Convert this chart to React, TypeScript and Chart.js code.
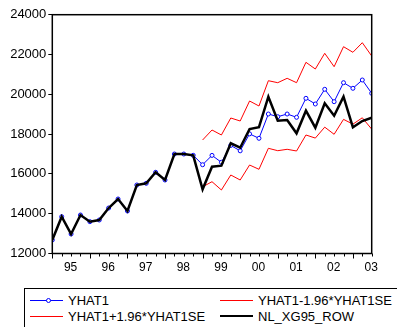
import React, { useEffect, useRef } from 'react';
import { Chart, registerables } from 'chart.js';

Chart.register(...registerables);

// Quarterly observations 1995Q1 .. 2003Q3 (index 0..34)
const yearLabels = ['95', '96', '97', '98', '99', '00', '01', '02', '03'];
const yTickValues = [12000, 14000, 16000, 18000, 20000, 22000, 24000];

const nlXg95Row = [
  12680, 13850, 12980, 13935, 13600, 13683, 14286, 14739, 14136, 15442,
  15527, 16080, 15693, 17000, 17000, 16935, 15226, 16362, 16412, 17538,
  17317, 18250, 18350, 19879, 18673, 18709, 18040, 19176, 18322, 19548,
  18925, 19879, 18342, 18658, 18824,
];

const yhat1 = [
  12680, 13850, 12980, 13935, 13600, 13683, 14286, 14739, 14136, 15442,
  15527, 16080, 15693, 17000, 17000, 16935, 16460, 16930, 16583, 17430,
  17160, 18010, 17789, 19010, 18874, 19010, 18844, 19799, 19513, 20251,
  19628, 20583, 20302, 20719, 20050,
];

// Forecast bands start at 1999Q1 (index 16)
const bandStart = 16;
const yhat1Upper = [
  17704, 18206, 17955, 18809, 18658, 19663, 19412, 20683, 20583, 20804,
  20583, 21608, 21271, 22060, 21387, 22392, 22111, 22593, 21925,
];
const yhat1Lower = [
  15350, 15608, 15191, 15945, 15693, 16447, 16231, 17286, 17166, 17236,
  17151, 17955, 17800, 18350, 17990, 18740, 18500, 18820, 18250,
];

const FONT = 'Arial, "Liberation Sans", sans-serif';
const LABEL_OFFSET = 1.95;

const framePlugin = {
  id: 'eviewsFrame',
  afterDatasetsDraw(chart: any) {
    const { ctx, chartArea } = chart;
    const xs = chart.scales.x;
    ctx.save();
    ctx.strokeStyle = '#000';
    ctx.lineWidth = 1.5;
    ctx.strokeRect(chartArea.left, chartArea.top, chartArea.right - chartArea.left, chartArea.bottom - chartArea.top);
    ctx.lineWidth = 1;
    for (let i = 0; i < nlXg95Row.length; i++) {
      const px = Math.round(xs.getPixelForValue(i)) + 0.5;
      const len = i % 4 === 0 ? 5 : 3;
      ctx.beginPath();
      ctx.moveTo(px, chartArea.bottom);
      ctx.lineTo(px, chartArea.bottom + len);
      ctx.stroke();
    }
    ctx.restore();
  },
};

export default function App() {
  const ref = useRef<HTMLCanvasElement | null>(null);

  useEffect(() => {
    if (!ref.current) return;
    const toPts = (arr: number[], start: number) => arr.map((v, i) => ({ x: i + start, y: v }));
    const chart = new Chart(ref.current, {
      type: 'line',
      data: {
        datasets: [
          {
            label: 'NL_XG95_ROW',
            data: toPts(nlXg95Row, 0),
            borderColor: '#000000',
            borderWidth: 2.5,
            pointRadius: 0,
            order: 0,
          },
          {
            label: 'YHAT1',
            data: toPts(yhat1, 0),
            borderColor: '#0000ff',
            borderWidth: 1,
            pointRadius: 2,
            pointBorderWidth: 1,
            pointBackgroundColor: '#ffffff',
            pointBorderColor: '#0000ff',
            order: 1,
          },
          {
            label: 'YHAT1-1.96*YHAT1SE',
            data: toPts(yhat1Lower, bandStart),
            borderColor: '#ff0000',
            borderWidth: 1,
            pointRadius: 0,
            order: 2,
          },
          {
            label: 'YHAT1+1.96*YHAT1SE',
            data: toPts(yhat1Upper, bandStart),
            borderColor: '#ff0000',
            borderWidth: 1,
            pointRadius: 0,
            order: 2,
          },
        ],
      },
      options: {
        responsive: false,
        animation: false,
        devicePixelRatio: 1,
        layout: { padding: { left: 0, right: 25.3, top: 14.7, bottom: 6.5 } },
        plugins: { legend: { display: false }, tooltip: { enabled: false } },
        elements: { line: { tension: 0 } },
        scales: {
          x: {
            type: 'linear',
            min: 0,
            max: nlXg95Row.length - 1,
            grid: { display: false, drawTicks: false },
            border: { display: false },
            afterBuildTicks: (scale: any) => {
              scale.ticks = yearLabels.map((_, k) => ({ value: 4 * k + LABEL_OFFSET }));
            },
            afterFit: (scale: any) => {
              scale.height = 20;
            },
            ticks: {
              autoSkip: false,
              maxRotation: 0,
              color: '#000',
              padding: 7,
              font: { family: FONT, size: 12 },
              callback: (v: any) => {
                const k = Math.round((Number(v) - LABEL_OFFSET) / 4);
                return yearLabels[k] ?? '';
              },
            },
          },
          y: {
            type: 'linear',
            min: yTickValues[0],
            max: yTickValues[yTickValues.length - 1],
            afterBuildTicks: (scale: any) => {
              scale.ticks = yTickValues.map((v) => ({ value: v }));
            },
            afterFit: (scale: any) => {
              scale.width = 52.3;
            },
            grid: {
              drawOnChartArea: false,
              drawTicks: true,
              tickLength: 4,
              color: '#000',
              lineWidth: 1,
            },
            border: { display: false },
            ticks: {
              color: '#000',
              padding: 2,
              font: { family: FONT, size: 13 },
              callback: (v: any) => String(v),
            },
          },
        },
      },
      plugins: [framePlugin],
    } as any);
    return () => chart.destroy();
  }, []);

  const textStyle: React.CSSProperties = {
    position: 'absolute',
    fontFamily: FONT,
    fontSize: 13,
    lineHeight: '15px',
    color: '#000',
    whiteSpace: 'nowrap',
  };
  const lineSample = (left: number, top: number, color: string, thick: number) => (
    <div
      style={{
        position: 'absolute',
        left,
        top: top - thick / 2,
        width: 33,
        height: thick,
        background: color,
      }}
    />
  );

  return (
    <div
      style={{
        position: 'fixed',
        left: 0,
        top: 0,
        width: 397,
        height: 327,
        overflow: 'hidden',
        background: '#fff',
      }}
    >
      <canvas ref={ref} width={397} height={280} style={{ display: 'block', width: 397, height: 280 }} />
      <div
        style={{
          position: 'absolute',
          left: 24,
          top: 288,
          width: 420,
          height: 60,
          border: '1px solid #000',
          boxSizing: 'border-box',
        }}
      />
      {lineSample(30, 300, '#0000ff', 1)}
      <div
        style={{
          position: 'absolute',
          left: 45.5,
          top: 297.5,
          width: 3,
          height: 3,
          borderRadius: '50%',
          border: '1px solid #0000ff',
          background: '#fff',
        }}
      />
      <div style={{ ...textStyle, left: 68, top: 292.5 }}>YHAT1</div>
      {lineSample(220, 300, '#ff0000', 1)}
      <div style={{ ...textStyle, left: 258, top: 292.5 }}>YHAT1-1.96*YHAT1SE</div>
      {lineSample(30, 316, '#ff0000', 1)}
      <div style={{ ...textStyle, left: 68, top: 308.5 }}>YHAT1+1.96*YHAT1SE</div>
      {lineSample(220, 316, '#000000', 2.5)}
      <div style={{ ...textStyle, left: 258, top: 308.5 }}>NL_XG95_ROW</div>
    </div>
  );
}
